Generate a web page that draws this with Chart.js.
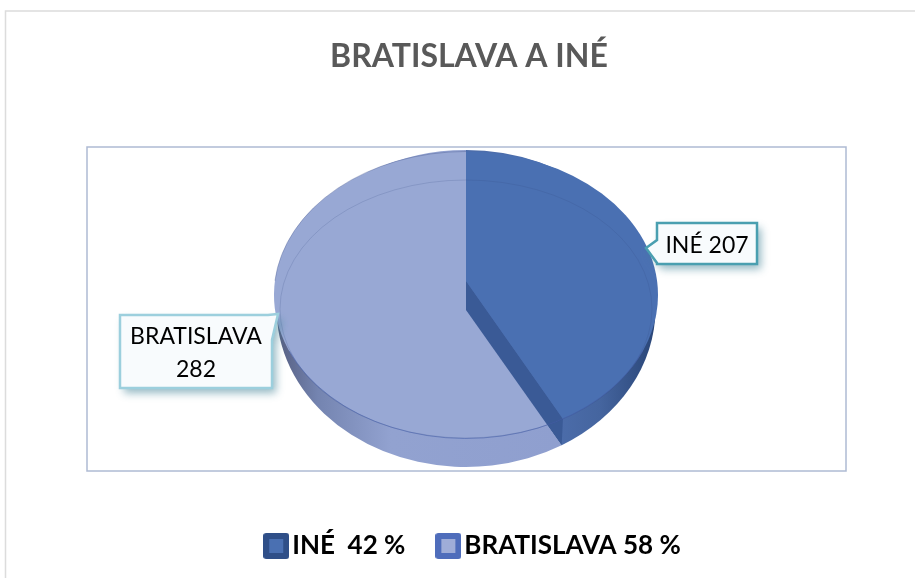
<!DOCTYPE html>
<html>
<head>
<meta charset="utf-8">
<style>
html, body { margin: 0; padding: 0; background: #fff; overflow: hidden; }
canvas { display: block; }
</style>
<script src="https://cdn.jsdelivr.net/npm/chart.js@4"></script>
</head>
<body>
<canvas id="pie" width="915" height="578"></canvas>
<script>
var categories = ["INÉ", "BRATISLAVA"];
var counts = [207, 282];
var percents = ["42", "58"];
var chartTitle = "BRATISLAVA A INÉ";

var topColors = ["#4a70b2", "#98a8d4"];
var swatchColors = [["#2f4f88", "#4a70b2"], ["#4f6dbb", "#9fadd8"]];

// pie seen in perspective: top face, silhouette incl. the side wall, inner bevel ring
var cx = 466;
var top_ = { y: 295, rx: 192, ry: 143.5 };
var sil = { y: 308.5, rx: 189.5, ry: 158.5 };
var ring = { y: 309, rx: 186, ry: 129 };
var vertexY = 281;
var wallDepth = 29;

function rimAngle(libAngle) {
    // library angle -> ellipse angle, pulled by the perspective shift of the pie centre
    var a = libAngle + Math.PI / 2;
    var c = (vertexY - top_.y) / top_.ry;
    var u = Math.sin(a), v = -Math.cos(a);
    var d = 1 + c * v;
    return Math.atan2((v + c) / d, u * Math.sqrt(1 - c * c) / d);
}

function wedge(ctx, e, vy, a0, a1) {
    ctx.beginPath();
    ctx.moveTo(cx, vy);
    ctx.ellipse(cx, e.y, e.rx, e.ry, 0, a0, a1, false);
    ctx.closePath();
}

function sideGradient(ctx, i) {
    var g;
    if (i === 0) {
        g = ctx.createLinearGradient(555, 0, 655, 0);
        g.addColorStop(0, "#4c6dab");
        g.addColorStop(0.45, "#45659f");
        g.addColorStop(1, "#2a4678");
    } else {
        g = ctx.createLinearGradient(278, 0, 560, 0);
        g.addColorStop(0, "#565f82");
        g.addColorStop(0.14, "#7484b0");
        g.addColorStop(0.4, "#92a2d0");
        g.addColorStop(1, "#8f9fcf");
    }
    return g;
}

function drawPie(ctx, chart) {
    var arcs = chart.getDatasetMeta(0).data;
    var angles = arcs.map(function(arc) {
        return [rimAngle(arc.startAngle), rimAngle(arc.endAngle)];
    });

    // side wall
    arcs.forEach(function(arc, i) {
        wedge(ctx, sil, vertexY + wallDepth, angles[i][0], angles[i][1]);
        ctx.fillStyle = sideGradient(ctx, i);
        ctx.fill();
    });

    // top faces, the cut wall sits between them
    wedge(ctx, top_, vertexY + wallDepth, angles[1][0], angles[1][1]);
    ctx.fillStyle = arcs[1].options.backgroundColor;
    ctx.fill();

    var end = angles[0][1];
    ctx.beginPath();
    ctx.moveTo(cx, vertexY);
    ctx.lineTo(cx, vertexY + wallDepth);
    ctx.lineTo(cx + sil.rx * Math.cos(end), sil.y + sil.ry * Math.sin(end));
    ctx.lineTo(cx + top_.rx * Math.cos(end), top_.y + top_.ry * Math.sin(end));
    ctx.closePath();
    ctx.fillStyle = "#3a5a96";
    ctx.fill();

    wedge(ctx, top_, vertexY, angles[0][0], angles[0][1]);
    ctx.fillStyle = arcs[0].options.backgroundColor;
    ctx.fill();

    // thin edges
    ctx.lineWidth = 1;
    ctx.strokeStyle = "rgba(50,70,130,0.18)";
    ctx.beginPath();
    ctx.ellipse(cx, ring.y, ring.rx, ring.ry, 0, 0, Math.PI * 2);
    ctx.stroke();
    ctx.strokeStyle = "rgba(70,95,170,0.55)";
    ctx.beginPath();
    ctx.ellipse(cx, top_.y, top_.rx, top_.ry, 0, 0.4, Math.PI - 0.4);
    ctx.stroke();
    ctx.strokeStyle = "rgba(70,85,140,0.35)";
    ctx.beginPath();
    ctx.ellipse(cx, top_.y, top_.rx, top_.ry, 0, Math.PI + 0.1, Math.PI * 1.5);
    ctx.stroke();
}

function drawCallout(ctx, box, tail, lines, border) {
    ctx.save();
    ctx.shadowColor = "rgba(60,125,145,0.55)";
    ctx.shadowBlur = 8;
    ctx.shadowOffsetX = 4;
    ctx.shadowOffsetY = 5;
    ctx.fillStyle = "#f8fbfd";
    ctx.strokeStyle = border;
    ctx.lineWidth = 2.5;
    ctx.beginPath();
    ctx.moveTo(box.x, box.y);
    if (tail.side === "top") {
        ctx.lineTo(tail.a, box.y);
        ctx.lineTo(tail.x, tail.y);
        ctx.lineTo(box.x + box.w, tail.b);
    } else {
        ctx.lineTo(box.x + box.w, box.y);
    }
    ctx.lineTo(box.x + box.w, box.y + box.h);
    ctx.lineTo(box.x, box.y + box.h);
    if (tail.side === "left") {
        ctx.lineTo(box.x, tail.b);
        ctx.lineTo(tail.x, tail.y);
        ctx.lineTo(box.x, tail.a);
    }
    ctx.closePath();
    ctx.fill();
    ctx.shadowColor = "transparent";
    ctx.stroke();
    ctx.restore();

    ctx.fillStyle = "#000";
    ctx.font = "23px Lato";
    ctx.textAlign = "center";
    ctx.textBaseline = "middle";
    var lh = 33;
    var startY = box.y + box.h / 2 - (lines.length - 1) * lh / 2 + 2;
    lines.forEach(function(line, i) {
        ctx.fillText(line, box.x + box.w / 2, startY + i * lh);
    });
}

function makeSwatch(colors) {
    var c = document.createElement("canvas");
    c.width = 26;
    c.height = 26;
    var g = c.getContext("2d");
    g.fillStyle = colors[0];
    g.beginPath();
    g.roundRect(0, 0, 26, 26, 3);
    g.fill();
    g.fillStyle = colors[1];
    g.fillRect(6, 6, 14, 14);
    return c;
}

var scenePlugin = {
    id: "scene",
    afterLayout: function(chart) {
        var t = chart.titleBlock;
        t.left = 0; t.right = 938; t.top = 37; t.bottom = 73;
        var l = chart.legend;
        var h = l.bottom - l.top;
        l.left = 39; l.right = 915; l.top = 493; l.bottom = l.top + h;
    },
    beforeDraw: function(chart) {
        var ctx = chart.ctx;
        ctx.save();
        ctx.strokeStyle = "#dcdcdc";
        ctx.lineWidth = 1.5;
        ctx.beginPath();
        ctx.moveTo(5.5, 578);
        ctx.lineTo(5.5, 11);
        ctx.lineTo(915, 11);
        ctx.stroke();
        ctx.strokeStyle = "#aebbd3";
        ctx.lineWidth = 1.5;
        ctx.strokeRect(87, 147, 759, 324);
        ctx.restore();
    },
    beforeDatasetsDraw: function(chart) {
        var ctx = chart.ctx;
        ctx.save();
        drawPie(ctx, chart);
        drawCallout(ctx, { x: 657, y: 223, w: 100, h: 41 }, { side: "left", x: 646, y: 248, a: 240, b: 263 },
            [categories[0] + " " + counts[0]], "#4a9fb0");
        drawCallout(ctx, { x: 120, y: 315, w: 152, h: 73 }, { side: "top", x: 278, y: 314, a: 268, b: 340 },
            [categories[1], String(counts[1])], "#9ccfdd");
        ctx.restore();
        return false;
    }
};

new Chart(document.getElementById("pie"), {
    type: "pie",
    data: {
        labels: categories,
        datasets: [{
            data: counts,
            backgroundColor: topColors,
            borderWidth: 0
        }]
    },
    options: {
        responsive: false,
        animation: false,
        plugins: {
            title: {
                display: true,
                text: chartTitle,
                color: "#595959",
                padding: 0,
                font: { family: "Lato", size: 32, weight: "bold" }
            },
            tooltip: { enabled: false },
            legend: {
                position: "bottom",
                labels: {
                    usePointStyle: true,
                    pointStyleWidth: 6,
                    padding: 40,
                    color: "#000",
                    font: { family: "Lato", size: 26, weight: "bold" },
                    generateLabels: function() {
                        return categories.map(function(name, i) {
                            return {
                                text: name + (i === 0 ? "  " : " ") + percents[i] + " %",
                                pointStyle: makeSwatch(swatchColors[i]),
                                fontColor: "#000",
                                index: i
                            };
                        });
                    }
                }
            }
        }
    },
    plugins: [scenePlugin]
});
</script>
</body>
</html>
